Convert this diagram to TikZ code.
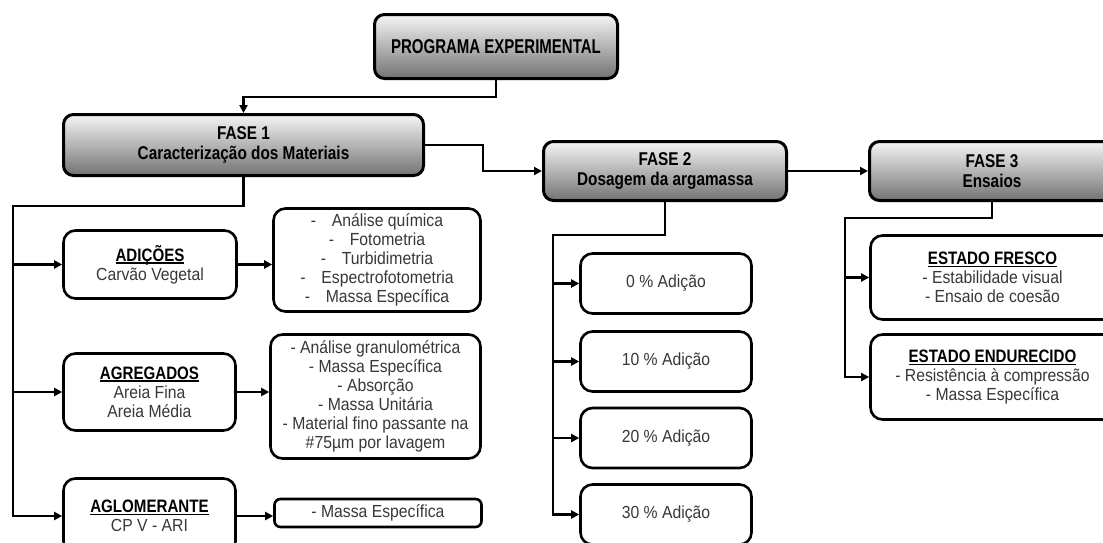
\documentclass[tikz,border=0pt]{standalone}
\usepackage{fontspec}
\setmainfont{Liberation Sans}[FakeStretch=0.9]
\newfontfamily\narrowfont{Liberation Sans}[FakeStretch=0.75]
\newfontfamily\labfont{Liberation Sans}[FakeStretch=0.84]
\newfontfamily\fasefamily{Liberation Sans}[FakeStretch=0.83]
\usetikzlibrary{arrows.meta}
\newcommand\myul[1]{\leavevmode\setbox0=\hbox{#1}\rlap{\rule[-2.4pt]{\wd0}{1.4pt}}\box0}
\tikzset{
  gbox/.style={draw=black, line width=3pt, rounded corners=10pt, top color=black!4, bottom color=black!55, align=center, inner sep=0pt},
  wbox/.style={draw=black, line width=2.6pt, rounded corners=12pt, fill=white, align=center, inner sep=0pt, text=black!78, font=\fontsize{17.5}{18.9}\selectfont},
  pefont/.style={font=\narrowfont\bfseries\fontsize{20}{22}\selectfont},
  fasefont/.style={font=\fasefamily\bfseries\fontsize{18.5}{20}\selectfont},
  conn/.style={line width=2.6pt, black},
  arr/.style={conn, -{Triangle[length=8pt,width=8pt]}},
}
\newcommand\lab[1]{{\color{black}\labfont\bfseries\fontsize{18}{20}\selectfont\myul{#1}}}
\begin{document}
\begin{tikzpicture}[x=1pt,y=-1pt]
\useasboundingbox (0,0) rectangle (1103,542);
% top level
\node[gbox, pefont, minimum width=243pt, minimum height=64pt] (pe) at (496,46.5) {PROGRAMA EXPERIMENTAL};
\node[gbox, fasefont, minimum width=360pt, minimum height=61pt] (f1) at (243.5,145) {FASE 1\\Caracterização dos Materiais};
\node[gbox, fasefont, minimum width=243pt, minimum height=59pt] (f2) at (665,171) {FASE 2\\Dosagem da argamassa};
\node[gbox, fasefont, minimum width=245pt, minimum height=59pt] (f3) at (992,171) {FASE 3\\Ensaios};
% fase 1 children
\node[wbox, minimum width=173pt, minimum height=68pt] (adi) at (150,264.5) {\lab{ADIÇÕES}\\Carvão Vegetal};
\node[wbox, minimum width=172pt, minimum height=77pt] (agr) at (149.5,392) {\lab{AGREGADOS}\\Areia Fina\\Areia Média};
\node[wbox, minimum width=172pt, minimum height=75pt] (agl) at (149.5,516) {\lab{AGLOMERANTE}\\CP V - ARI};
\node[wbox, minimum width=207pt, minimum height=103pt] (inf1) at (377,260) {-\hspace{0.9em}Análise química\\-\hspace{0.9em}Fotometria\\-\hspace{0.9em}Turbidimetria\\-\hspace{0.9em}Espectrofotometria\\-\hspace{0.9em}Massa Específica};
\node[wbox, minimum width=210pt, minimum height=124pt] (inf2) at (375.5,396.5) {- Análise granulométrica\\- Massa Específica\\- Absorção\\- Massa Unitária\\- Material fino passante na\\\#75µm por lavagem};
\node[wbox, rounded corners=6pt, minimum width=207pt, minimum height=28pt] (inf3) at (378,513) {- Massa Específica};
% fase 2 children
\node[wbox, minimum width=171pt, minimum height=60pt] (d0) at (666,283.5) {0 \% Adição};
\node[wbox, minimum width=171pt, minimum height=60pt] (d1) at (666,361.5) {10 \% Adição};
\node[wbox, minimum width=171pt, minimum height=60pt] (d2) at (666,438) {20 \% Adição};
\node[wbox, minimum width=171pt, minimum height=60pt] (d3) at (666,514.5) {30 \% Adição};
% fase 3 children
\node[wbox, minimum width=244pt, minimum height=84pt] (fr) at (992.5,277.5) {\lab{ESTADO FRESCO}\\- Estabilidade visual\\- Ensaio de coesão};
\node[wbox, minimum width=244pt, minimum height=85pt] (en) at (992.5,377) {\lab{ESTADO ENDURECIDO}\\- Resistência à compressão\\- Massa Específica};
% junction coordinates
\coordinate (j0) at (497,97);
\coordinate (k1) at (483,145);
\coordinate (t1) at (13,206);
\coordinate (t2) at (553,235);
\coordinate (t3) at (845,218);
% connectors
\draw[arr] (pe.south) -- (pe.south |- j0) -| (f1.north);
\draw[arr] (f1.east) -- (k1) |- (f2.west);
\draw[arr] (f2.east) -- (f3.west);
\draw[arr] (f1.south) |- (t1) |- (agl.west);
\draw[arr] (t1 |- adi.west) -- (adi.west);
\draw[arr] (t1 |- agr.west) -- (agr.west);
\draw[arr] (adi.east) -- (adi.east -| inf1.west);
\draw[arr] (agr.east) -- (agr.east -| inf2.west);
\draw[arr] (agl.east) -- (agl.east -| inf3.west);
\draw[arr] (f2.south) |- (t2) |- (d3.west);
\draw[arr] (t2 |- d0.west) -- (d0.west);
\draw[arr] (t2 |- d1.west) -- (d1.west);
\draw[arr] (t2 |- d2.west) -- (d2.west);
\draw[arr] (f3.south) |- (t3) |- (en.west);
\draw[arr] (t3 |- fr.west) -- (fr.west);
\end{tikzpicture}
\end{document}
